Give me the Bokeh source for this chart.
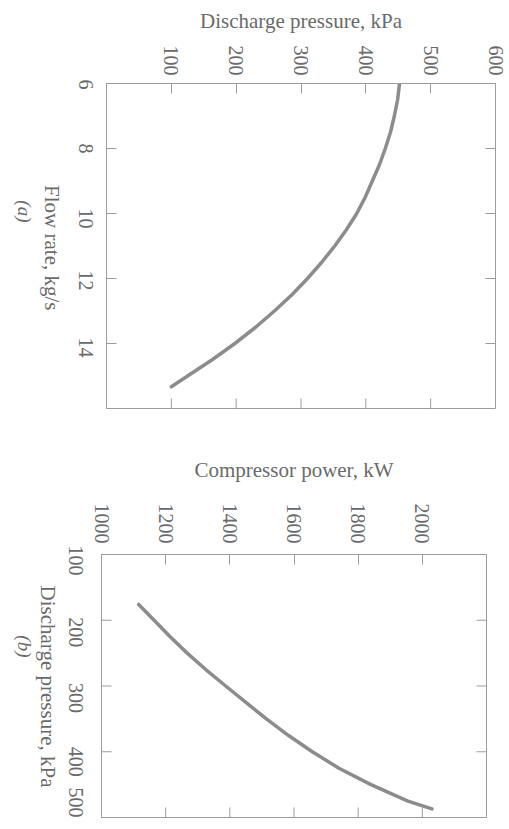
import math
from bokeh.plotting import figure
from bokeh.models import Range1d, LinearAxis, FixedTicker, CustomJSTickFormatter
from bokeh.embed import file_html
from bokeh.resources import INLINE

# ---- data, panel (a): discharge pressure vs flow rate ----
flow_a = [6.0, 6.5, 7.0, 7.5, 8.0, 8.5, 9.0, 9.5, 10.0, 10.5, 11.0, 11.5,
          12.0, 12.5, 13.0, 13.5, 14.0, 14.5, 15.0, 15.33]
press_a = [452, 449, 444, 438, 430, 421, 410, 399, 386, 370, 352, 332,
           310, 286, 259, 230, 198, 163, 125, 100]
press_ticks_a = [100, 200, 300, 400, 500, 600]
flow_ticks_a = [6, 8, 10, 12, 14]
press_range_a = (0, 600)
flow_range_a = (16, 6)

# ---- data, panel (b): compressor power vs discharge pressure ----
press_b = [176, 200, 225, 250, 275, 300, 325, 350, 375, 400, 425, 450, 475, 487]
power_b = [1116, 1164, 1214, 1267, 1325, 1387, 1450, 1514, 1582, 1657, 1740, 1840, 1955, 2030]
power_ticks_b = [1000, 1200, 1400, 1600, 1800, 2000]
press_ticks_b = [100, 200, 300, 400, 500]
power_range_b = (1000, 2200)
press_range_b = (500, 100)

FONT = "Liberation Serif"
CURVE = "#8c8c8c"
AXC = "#9c9c9c"
TXT = "#6a6a6a"
ROT = -math.pi / 2

# ---- layout (pixels) ----
W = 509
HA, HB = 430, 398
A_LEFT, A_RIGHT, A_TOP, A_BOTTOM = 105, 14, 83, 22
B_LEFT, B_RIGHT, B_TOP, B_BOTTOM = 100, 23, 124, 11
A_PX_PER_UNIT = (HA - A_TOP - A_BOTTOM) / abs(flow_range_a[0] - flow_range_a[1])
B_PX_PER_UNIT = (HB - B_TOP - B_BOTTOM) / abs(press_range_b[0] - press_range_b[1])


def nearest_formatter(pos, txt):
    return CustomJSTickFormatter(args=dict(pos=pos, txt=txt), code="""
        let best = 0;
        for (let k = 1; k < pos.length; k++) {
            if (Math.abs(pos[k] - tick) < Math.abs(pos[best] - tick)) best = k;
        }
        return txt[best];
    """)


def style_top(ax, ticks, tick_standoff, label, label_standoff):
    ax.ticker = FixedTicker(ticks=ticks)
    ax.major_tick_in = 10
    ax.major_tick_out = 0
    ax.minor_tick_in = 0
    ax.minor_tick_out = 0
    ax.major_tick_line_color = AXC
    ax.axis_line_color = AXC
    ax.major_label_orientation = ROT
    ax.major_label_standoff = tick_standoff
    ax.major_label_text_font = FONT
    ax.major_label_text_font_size = "20px"
    ax.major_label_text_color = TXT
    ax.axis_label = label
    ax.axis_label_standoff = label_standoff
    ax.axis_label_text_font = FONT
    ax.axis_label_text_font_size = "21px"
    ax.axis_label_text_font_style = "normal"
    ax.axis_label_text_color = TXT


def style_left(ax, positions, labels, standoff):
    """Left axis: line only; its labels sit at the given positions (ticks drawn separately)."""
    ax.ticker = FixedTicker(ticks=positions)
    ax.formatter = nearest_formatter(positions, labels)
    ax.major_tick_in = 0
    ax.major_tick_out = 0
    ax.minor_tick_in = 0
    ax.minor_tick_out = 0
    ax.major_tick_line_color = None
    ax.axis_line_color = AXC
    ax.major_label_orientation = ROT
    ax.major_label_standoff = standoff
    ax.major_label_text_font = FONT
    ax.major_label_text_font_size = "20px"
    ax.major_label_text_color = TXT


def text_axis(pos, text, standoff, size, italic=False):
    """An axis with no line and no tick mark whose single tick label is a caption."""
    return LinearAxis(
        ticker=FixedTicker(ticks=[pos]),
        formatter=nearest_formatter([pos], [text]),
        major_tick_in=0, major_tick_out=0, minor_tick_in=0, minor_tick_out=0,
        axis_line_color=None, major_tick_line_color=None,
        major_label_orientation=ROT, major_label_standoff=standoff,
        major_label_text_font=FONT, major_label_text_font_size=size,
        major_label_text_font_style="italic" if italic else "normal",
        major_label_text_color=TXT,
    )


def inner_ticks(p, xs, ys, vertical):
    p.scatter(xs, ys, marker="dash", size=20, angle=(math.pi / 2 if vertical else 0),
              line_color=AXC, line_width=1)


def base_fig(w, h, xr, yr, bl, br, bt, bb):
    p = figure(width=w, height=h, x_range=Range1d(*xr), y_range=Range1d(*yr),
               x_axis_location="above", y_axis_location="left",
               output_backend="svg", toolbar_location=None,
               min_border_left=bl, min_border_right=br,
               min_border_top=bt, min_border_bottom=bb)
    p.grid.visible = False
    p.outline_line_color = AXC
    p.background_fill_color = "white"
    p.border_fill_color = "white"
    return p


# ---- panel (a) ----
fa = base_fig(W, HA, press_range_a, flow_range_a, A_LEFT, A_RIGHT, A_TOP, A_BOTTOM)
style_top(fa.xaxis[0], press_ticks_a, 8, "Discharge pressure, kPa", 10)
label_end_px_a = [6, 5, 15, 12, 14]      # how far below its tick each label ends
style_left(fa.yaxis[0],
           [t + d / A_PX_PER_UNIT for t, d in zip(flow_ticks_a, label_end_px_a)],
           [str(t) for t in flow_ticks_a], 21)
fa.add_layout(text_axis(flow_range_a[1] + (310 - A_TOP) / A_PX_PER_UNIT,
                        "Flow rate, kg/s", 17, "21px"), "left")
fa.add_layout(text_axis(flow_range_a[1] + (222 - A_TOP) / A_PX_PER_UNIT,
                        "(a)", 0, "19px", italic=True), "left")
inner_ticks(fa, [press_range_a[0]] * 4, flow_ticks_a[1:], vertical=False)
inner_ticks(fa, [press_range_a[1]] * 4, flow_ticks_a[1:], vertical=False)
inner_ticks(fa, press_ticks_a[:-1], [flow_range_a[0]] * 5, vertical=True)
fa.line(press_a, flow_a, line_width=3.5, line_color=CURVE, line_cap="round")

# ---- panel (b) ----
fb = base_fig(W, HB, power_range_b, press_range_b, B_LEFT, B_RIGHT, B_TOP, B_BOTTOM)
style_top(fb.xaxis[0], power_ticks_b, 11, "Compressor power, kW", 19)
label_end_px_b = [21, 27, 27, 25, 0]
style_left(fb.yaxis[0],
           [t + d / B_PX_PER_UNIT for t, d in zip(press_ticks_b, label_end_px_b)],
           [str(t) for t in press_ticks_b], 26)
fb.add_layout(text_axis(press_range_b[1] + (787 - (HA + B_TOP)) / B_PX_PER_UNIT,
                        "Discharge pressure, kPa", 11, "21px"), "left")
fb.add_layout(text_axis(press_range_b[1] + (657 - (HA + B_TOP)) / B_PX_PER_UNIT,
                        "(b)", -4, "19px", italic=True), "left")
inner_ticks(fb, [power_range_b[0]] * 3, press_ticks_b[1:-1], vertical=False)
inner_ticks(fb, [power_range_b[1]] * 3, press_ticks_b[1:-1], vertical=False)
inner_ticks(fb, power_ticks_b[1:], [press_range_b[0]] * 5, vertical=True)
fb.line(power_b, press_b, line_width=3.5, line_color=CURVE, line_cap="round")

open("out.html", "w").write(file_html([fa, fb], INLINE))
